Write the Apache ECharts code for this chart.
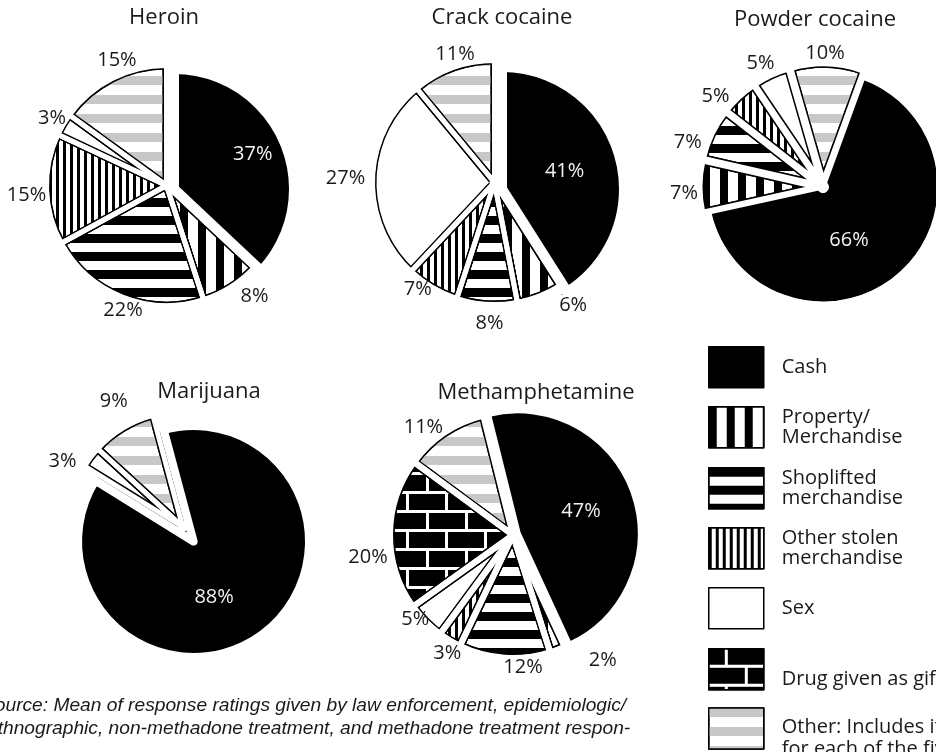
<!DOCTYPE html>
<html>
<head>
<meta charset="utf-8">
<script src="https://cdn.jsdelivr.net/npm/echarts@6/dist/echarts.min.js"></script>
<style>
  html, body { margin: 0; padding: 0; background: #ffffff; }
  #chart { width: 936px; height: 752px; }
</style>
</head>
<body>
<div id="chart"></div>
<script>
// Payment categories, in legend order
const categories = ['Cash', 'Property/Merchandise', 'Shoplifted merchandise', 'Other stolen merchandise', 'Sex', 'Drug given as gift', 'Other'];
const legendLabels = ['Cash', 'Property/\nMerchandise', 'Shoplifted\nmerchandise', 'Other stolen\nmerchandise', 'Sex', 'Drug given as gift', 'Other: Includes items not listed\nfor each of the five drugs'];

// Percent of payments by drug
const heroinCats = ['Cash', 'Property/Merchandise', 'Shoplifted merchandise', 'Other stolen merchandise', 'Sex', 'Other'];
const heroinValues = [37, 8, 22, 15, 3, 15];

const crackCats = ['Cash', 'Property/Merchandise', 'Shoplifted merchandise', 'Other stolen merchandise', 'Sex', 'Other'];
const crackValues = [41, 6, 8, 7, 27, 11];

const powderCats = ['Cash', 'Property/Merchandise', 'Shoplifted merchandise', 'Other stolen merchandise', 'Sex', 'Other'];
const powderValues = [66, 7, 7, 5, 5, 10];

const marijuanaCats = ['Cash', 'Sex', 'Other'];
const marijuanaValues = [88, 3, 9];

const methCats = ['Cash', 'Property/Merchandise', 'Shoplifted merchandise', 'Other stolen merchandise', 'Sex', 'Drug given as gift', 'Other'];
const methValues = [47, 2, 12, 3, 5, 20, 11];

const sourceLines = [
  'Source: Mean of response ratings given by law enforcement, epidemiologic/',
  'ethnographic, non-methadone treatment, and methadone treatment respon-'
];

// ---- styling ----
const fontFamily = '"Open Sans", "Noto Sans", sans-serif';
const ink = '#1a1a1a';
const EDGE = 1.5;   // outline width of each slice

const fills = {
  'Cash': { color: '#000000' },
  'Property/Merchandise': { color: '#ffffff', decal: { symbol: 'rect', symbolSize: 1, color: '#000000', dashArrayX: [8, 10], dashArrayY: [1, 0] } },
  'Shoplifted merchandise': { color: '#ffffff', decal: { symbol: 'rect', symbolSize: 1, color: '#000000', dashArrayX: [1, 0], dashArrayY: [9, 9] } },
  'Other stolen merchandise': { color: '#ffffff', decal: { symbol: 'rect', symbolSize: 1, color: '#000000', dashArrayX: [3, 4], dashArrayY: [1, 0] } },
  'Sex': { color: '#ffffff' },
  'Drug given as gift': { color: '#ffffff', decal: { symbol: 'rect', symbolSize: 1, color: '#000000', dashArrayX: [[36, 3], [16, 3, 20, 0]], dashArrayY: [16, 3] } },
  'Other': { color: '#ffffff', decal: { symbol: 'rect', symbolSize: 1, color: '#c8c8c8', dashArrayX: [1, 0], dashArrayY: [9, 10] } }
};

// Layout of each pie. "moves" shifts a slice away from the centre: a number pulls it
// out along its own middle, a pair is a pixel shift. Label nudges are pixel tweaks.
const pies = [
  { title: 'Heroin', titlePos: [164, 18], cats: heroinCats, values: heroinValues,
    center: [166.5, 185.5], r: 120, start: 90, gap: 5, labelGap: 17, innerFrac: 0.69, hub: 5,
    moves: [[7.5, 3.5], 0, 0, 0, 0, 0],
    labelShift: { 0: [0, -1], 1: [13, -7], 2: [8, -5], 3: [0, 5], 4: [6, 4], 5: [14, 0] } },
  { title: 'Crack cocaine', titlePos: [502, 18], cats: crackCats, values: crackValues,
    center: [494.5, 182.5], r: 122, start: 90, gap: 5, labelGap: 18, innerFrac: 0.51, hub: 5,
    moves: [[7.5, 6.5], 0, 0, 0, 0, 0],
    labelShift: { 1: [26, -10], 2: [4, -2], 3: [-4, -16], 4: [-6, 0], 5: [9, 6] } },
  { title: 'Powder cocaine', titlePos: [815, 20], cats: powderCats, values: powderValues,
    center: [823, 187], r: 117, start: 70, gap: 5, labelGap: 17, innerFrac: 0.48, hub: 6,
    moves: [0, 6, 6, 6, 6, 6],
    labelShift: { 0: [-13, 9], 1: [4, 7], 2: [-6, 17], 3: [-10, 14], 4: [-2, 6], 5: [-3, 9] } },
  { title: 'Marijuana', titlePos: [209, 392], cats: marijuanaCats, values: marijuanaValues,
    center: [182.8, 527], r: 115.6, start: 105, gap: 5, labelGap: 30, innerFrac: 0.49, hub: 5,
    moves: [18, 0, 0],
    labelShift: { 0: [-15, 8], 1: [-2, 24], 2: [8, 1] } },
  { title: 'Methamphetamine', titlePos: [536, 393], cats: methCats, values: methValues,
    center: [513, 535], r: 123, start: 104, gap: 6, labelGap: 17, innerFrac: 0.556, hub: 5,
    moves: [5, 0, 0, 0, 0, 0, 0],
    labelShift: { 0: [-4, 2], 1: [38, -8], 2: [20, -10], 3: [8, -4], 4: [4, -16], 5: [-2, 23], 6: [-10, 11] } }
];

// Work out each slice's shift and the half-width of the white band around it.
// Where a slice moves away from a neighbour the band is widened so its outline stays single.
function geometry(p) {
  const rad = Math.PI / 180;
  const total = p.values.reduce((a, b) => a + b, 0);
  const n = p.values.length;
  const starts = [];
  let a = p.start;
  p.values.forEach(v => { starts.push(a); a -= 360 * v / total; });
  const mids = p.values.map((v, i) => starts[i] - 180 * v / total);
  const moves = p.values.map((v, i) => {
    const m = p.moves[i];
    if (!m) return [0, 0];
    if (typeof m === 'number') return [m * Math.cos(mids[i] * rad), -m * Math.sin(mids[i] * rad)];
    return m;
  });
  const mag = moves.map(m => Math.hypot(m[0], m[1]));
  const h = p.values.map(() => p.gap / 2);
  const edges = [];
  for (let j = 0; j < n; j++) {
    const k = (j + 1) % n;
    const th = starts[k] * rad;
    const S = (moves[k][0] - moves[j][0]) * Math.sin(th) + (moves[k][1] - moves[j][1]) * Math.cos(th);
    edges.push([j, k, S]);
  }
  for (let pass = 0; pass < 6; pass++) {
    edges.forEach(([j, k, S]) => {
      if (S <= 0) return;
      if (h[j] + h[k] < S) {
        if (mag[j] > mag[k]) h[j] = S - h[k];
        else if (mag[k] > mag[j]) h[k] = S - h[j];
        else { const e = (S - h[j] - h[k]) / 2; h[j] += e; h[k] += e; }
      }
      if (Math.abs(h[j] - h[k]) > S) {
        if (h[j] < h[k]) h[j] = h[k] - S; else h[k] = h[j] - S;
      }
    });
  }
  return { moves, h, mag };
}

function pieSeries(p) {
  const g = geometry(p);
  const hMax = Math.max.apply(null, g.h);
  const groups = {};
  g.moves.forEach((m, i) => {
    const key = m[0].toFixed(3) + ',' + m[1].toFixed(3);
    (groups[key] = groups[key] || { move: m, members: [] }).members.push(i);
  });
  const clear = { color: 'rgba(0,0,0,0)', borderWidth: 0 };
  const labelFont = { fontFamily: fontFamily, fontSize: 20 };
  const nudge = params => {
    const d = p.labelShift[params.dataIndex];
    return d ? { dx: d[0], dy: d[1] } : {};
  };
  const out = [];
  Object.keys(groups).forEach(key => {
    const grp = groups[key];
    const has = i => grp.members.indexOf(i) >= 0;
    const moved = Math.hypot(grp.move[0], grp.move[1]) > 0;
    const hg = Math.max.apply(null, grp.members.map(i => g.h[i]));
    const base = {
      type: 'pie', center: [p.center[0] + grp.move[0], p.center[1] + grp.move[1]],
      startAngle: p.start, clockwise: true, silent: true, animation: false,
      avoidLabelOverlap: false, labelLine: { show: false }, emphasis: { disabled: true },
      legendHoverLink: false, minAngle: 0, selectedMode: false, label: { show: false }
    };
    const data = (styleOf, labelOf) => p.cats.map((c, i) => ({
      name: c, value: p.values[i],
      itemStyle: has(i) ? styleOf(c, i) : clear,
      label: (has(i) && labelOf) ? labelOf(i) : { show: false }
    }));
    // pattern fill with a heavy black edge
    out.push(Object.assign({}, base, { radius: [0, p.r], z: 2,
      data: data((c, i) => Object.assign({}, fills[c], { borderColor: '#000', borderWidth: 2 * (g.h[i] + EDGE), borderJoin: 'round' })) }));
    // white band carving the gaps, leaving a thin outline inside every slice
    out.push(Object.assign({}, base, { radius: [0, p.r], z: 3,
      data: data((c, i) => ({ color: 'rgba(0,0,0,0)', borderColor: '#fff', borderWidth: 2 * g.h[i], borderJoin: 'round' })) }));
    // the band carried on past the rim, so the gaps stay clean beyond the arcs
    out.push(Object.assign({}, base, { radius: moved ? [p.r + hg + 2, p.r + 30] : [p.r + 0.5, p.r + 24], z: 3,
      data: data((c, i) => ({ color: 'rgba(0,0,0,0)', borderColor: '#fff', borderJoin: 'miter', borderMiterLimit: 10,
        borderWidth: moved ? 2 * (g.h[i] + EDGE) + 2 : 2 * g.h[i] })) }));
    // white rim outside the arcs
    out.push(Object.assign({}, base, { radius: [p.r, p.r + hMax + EDGE + 2], z: 4,
      data: data(() => ({ color: '#fff', borderWidth: 0 })) }));
    // percentage labels around the pie
    out.push(Object.assign({}, base, { radius: [p.r + p.labelGap - 10, p.r + p.labelGap + 10], z: 6, labelLayout: nudge,
      data: data(() => clear, i => i === 0 ? { show: false } :
        Object.assign({ show: true, position: 'inside', formatter: '{c}%', color: ink }, labelFont)) }));
    // cash label inside its slice
    out.push(Object.assign({}, base, { radius: [(2 * p.innerFrac - 1) * p.r, p.r], z: 6, labelLayout: nudge,
      data: data(() => clear, i => i !== 0 ? { show: false } :
        Object.assign({ show: true, position: 'inside', formatter: '{c}%', color: '#f2f2f2' }, labelFont)) }));
  });
  // clean hub where the slices meet
  out.push({ type: 'pie', center: p.center, radius: [0, p.hub], startAngle: p.start, z: 4, silent: true,
    animation: false, label: { show: false }, labelLine: { show: false }, emphasis: { disabled: true },
    data: p.cats.map((c, i) => ({ name: c, value: p.values[i], itemStyle: { color: '#fff', borderWidth: 0 } })) });
  return out;
}

const series = [];
pies.forEach(p => pieSeries(p).forEach(s => series.push(s)));

const graphics = pies.map(p => ({
  type: 'text', x: p.titlePos[0], y: p.titlePos[1], z: 10,
  style: { text: p.title, font: '22px ' + fontFamily, fill: ink, align: 'center', verticalAlign: 'middle' }
}));
const sourceFont = 'italic 19.2px "Liberation Sans Narrow", "Liberation Sans", sans-serif';
graphics.push({ type: 'text', x: -18, y: 706, z: 10,
  style: { text: sourceLines[0], font: sourceFont, fill: ink, align: 'left', verticalAlign: 'middle' } });
graphics.push({ type: 'text', x: -13, y: 729, z: 10,
  style: { text: sourceLines[1], font: sourceFont, fill: ink, align: 'left', verticalAlign: 'middle' } });

// One legend block per category, stacked at a fixed pitch.
// A blank spacer line drops the text a little below the swatch centre where needed.
const legendSpacer = { 'Drug given as gift': 20, 'Other': 19 };
const legendLineHeight = { 'Other': 22 };
const legends = categories.map((c, i) => {
  const lh = legendLineHeight[c] || 20;
  const spacer = legendSpacer[c] || 0;
  const label = legendLabels[i];
  const rich = {
    t: { fontFamily: fontFamily, fontSize: 20, lineHeight: lh, color: ink },
    s: { fontFamily: fontFamily, fontSize: 4, lineHeight: spacer, height: spacer, color: ink }
  };
  const text = (spacer ? '{s| }\n' : '') + label.split('\n').map(l => '{t|' + l + '}').join('\n');
  const blockHeight = spacer + lh * label.split('\n').length;
  const raise = Math.max(0, blockHeight / 2 - 20.5);
  return {
    orient: 'vertical', left: 708, top: Math.round(346 + i * 60.33 - raise),
    padding: 0, icon: 'rect', itemWidth: 55, itemHeight: 41, selectedMode: false,
    data: [{ name: c, itemStyle: Object.assign({}, fills[c], { borderColor: '#000', borderWidth: EDGE }) }],
    formatter: () => text,
    textStyle: { fontFamily: fontFamily, fontSize: 20, color: ink, padding: [0, 0, 0, 13], rich: rich }
  };
});

const chart = echarts.init(document.getElementById('chart'), null, { renderer: 'canvas' });
chart.setOption({
  backgroundColor: '#ffffff',
  animation: false,
  legend: legends,
  graphic: graphics,
  series: series
});
</script>
</body>
</html>
